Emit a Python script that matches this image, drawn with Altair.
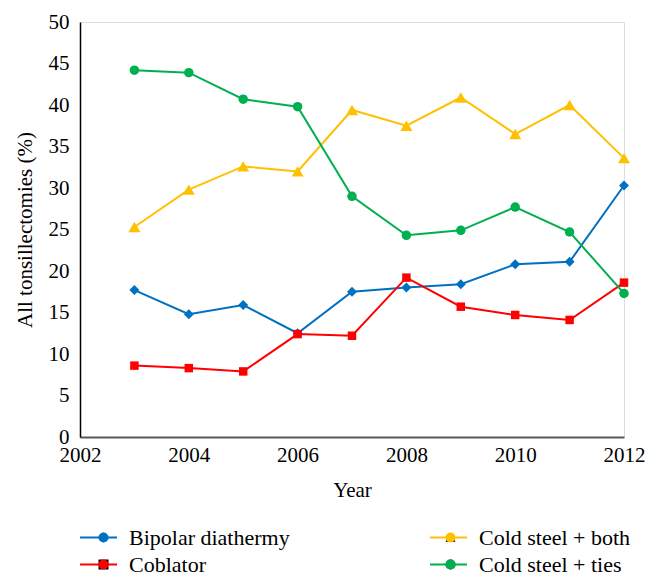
import altair as alt
import pandas as pd

years = [2003, 2004, 2005, 2006, 2007, 2008, 2009, 2010, 2011, 2012]
bipolar = [17.7, 14.8, 15.9, 12.5, 17.5, 18.0, 18.4, 20.8, 21.1, 30.3]
coblator = [8.6, 8.3, 7.9, 12.4, 12.2, 19.2, 15.7, 14.7, 14.1, 18.6]
cold_both = [25.3, 29.8, 32.6, 32.0, 39.4, 37.5, 40.9, 36.5, 40.0, 33.6]
cold_ties = [44.2, 43.9, 40.7, 39.8, 29.0, 24.3, 24.9, 27.7, 24.7, 17.3]

series_names = ["Bipolar diathermy", "Coblator", "Cold steel + both", "Cold steel + ties"]
series_values = [bipolar, coblator, cold_both, cold_ties]
colors = ["#0070C0", "#FF0000", "#FFC000", "#00B050"]
shapes = ["diamond", "square", "triangle-up", "circle"]
marker_sizes = [100, 72, 144, 90]
x_ticks = [2002, 2004, 2006, 2008, 2010, 2012]
y_ticks = [0, 5, 10, 15, 20, 25, 30, 35, 40, 45, 50]

rows = []
for name, vals in zip(series_names, series_values):
    for yr, v in zip(years, vals):
        rows.append({"year": yr, "value": v, "series": name, "series_pt": name})
df = pd.DataFrame(rows)

FONT = "Liberation Serif"
LBL_SIZE = 21
LEG_SIZE = 22

x_enc = alt.X("year:Q",
              scale=alt.Scale(domain=[2002, 2012], nice=False, zero=False),
              axis=alt.Axis(values=x_ticks, format="d", title="Year", grid=False,
                            ticks=False, labelPadding=7, titlePadding=14, labelFlush=False,
                            domainColor="#595959", domainWidth=2,
                            labelFont=FONT, labelFontSize=LBL_SIZE, labelColor="#000000",
                            titleFont=FONT, titleFontSize=LBL_SIZE, titleFontWeight="normal",
                            titleColor="#000000"))
y_enc = alt.Y("value:Q",
              scale=alt.Scale(domain=[0, 50], nice=False),
              axis=alt.Axis(values=y_ticks, title="All tonsillectomies (%)", grid=False,
                            ticks=False, labelPadding=11, titlePadding=13, labelFlush=False,
                            domainColor="#000000", domainWidth=1.5,
                            labelFont=FONT, labelFontSize=LBL_SIZE, labelColor="#000000",
                            titleFont=FONT, titleFontSize=LBL_SIZE, titleFontWeight="normal",
                            titleColor="#000000"))

LINE_LEN = 37
MARK_W = 10
LEG_X = -1
LEG_Y = 502
LBL_OFF = 11
COL_PAD = 139
ROW_H = 27

line_legend = alt.Legend(orient="none", legendX=LEG_X, legendY=LEG_Y, columns=2,
                         symbolType="stroke", symbolSize=LINE_LEN * LINE_LEN,
                         symbolStrokeWidth=2, labelFont=FONT, labelFontSize=LEG_SIZE,
                         labelColor="#000000", labelOffset=LBL_OFF, columnPadding=COL_PAD,
                         labelLimit=400, clipHeight=ROW_H, rowPadding=0, padding=0, title=None)
shift = (LINE_LEN - MARK_W) / 2
shape_legend = alt.Legend(orient="none", legendX=LEG_X + shift, legendY=LEG_Y, columns=2,
                          symbolSize=MARK_W * MARK_W, symbolStrokeWidth=0,
                          labelFont=FONT, labelFontSize=LEG_SIZE, labelOpacity=0,
                          labelOffset=LBL_OFF + shift, columnPadding=COL_PAD,
                          labelLimit=400, clipHeight=ROW_H, rowPadding=0, padding=0, title=None)

lines = alt.Chart(df).mark_line(strokeWidth=2).encode(
    x=x_enc, y=y_enc,
    color=alt.Color("series:N",
                    scale=alt.Scale(domain=series_names, range=colors),
                    legend=line_legend),
)

point_layers = []
for name, sz in zip(series_names, marker_sizes):
    point_layers.append(
        alt.Chart(df).transform_filter(alt.datum.series_pt == name)
        .mark_point(filled=True, opacity=1, size=sz)
        .encode(
            x=x_enc, y=y_enc,
            color=alt.Color("series_pt:N",
                            scale=alt.Scale(domain=series_names, range=colors),
                            legend=shape_legend),
            shape=alt.Shape("series_pt:N",
                            scale=alt.Scale(domain=series_names, range=shapes),
                            legend=shape_legend),
        )
    )

points = alt.layer(*point_layers)

chart = alt.layer(lines, points).resolve_scale(
    color="independent"
).resolve_legend(
    color="independent"
).properties(
    width=544, height=415,
    padding={"left": 6, "top": 3, "right": 5, "bottom": 5},
).configure_view(stroke=None).configure(background="white")

chart.save("out.html", embed_options={"renderer": "svg", "actions": False})
